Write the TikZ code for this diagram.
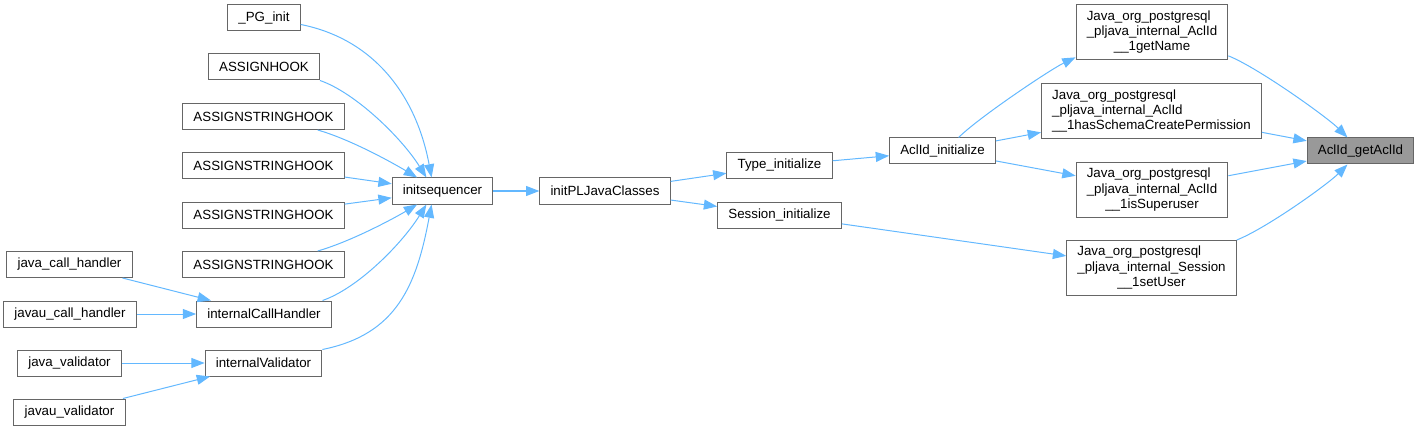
\documentclass[tikz,border=0pt]{standalone}
\usepackage{fontspec}
\setmainfont{Liberation Sans}
\usetikzlibrary{arrows.meta}
\definecolor{boxline}{HTML}{666666}
\definecolor{boxfill}{HTML}{999999}
\definecolor{callline}{HTML}{63B8FF}
\newcommand{\jnilabel}[3]{\begin{tabular}{@{}l@{}}#1\\#2\\\multicolumn{1}{@{}c@{}}{#3}\end{tabular}}
\renewcommand{\arraystretch}{0.94}
\tikzset{
 fn/.style={draw=boxline,line width=0.75pt,inner xsep=8pt,inner ysep=0pt,minimum height=19.5pt,font=\fontsize{10}{12}\selectfont},
 jni/.style={fn,minimum height=41.25pt},
 call/.style={draw=callline,line width=0.75pt,-{Triangle[length=10pt,width=7.5pt]}}
}
\begin{document}
\begin{tikzpicture}[x=0.75pt,y=-0.75pt]
\useasboundingbox (0,0) rectangle (1420,431);
\node[fn] (pginit) at (264,18) {\_PG\_init};
\node[fn] (ahook) at (264,67) {ASSIGNHOOK};
\node[fn] (ashook1) at (263.5,116.5) {ASSIGNSTRINGHOOK};
\node[fn] (ashook2) at (263.5,165.5) {ASSIGNSTRINGHOOK};
\node[fn] (ashook3) at (263.5,215) {ASSIGNSTRINGHOOK};
\node[fn] (ashook4) at (263.5,264.5) {ASSIGNSTRINGHOOK};
\node[fn] (jcall) at (69.5,264.5) {java\_call\_handler};
\node[fn] (jucall) at (70,314) {javau\_call\_handler};
\node[fn] (jval) at (69.5,363) {java\_validator};
\node[fn] (juval) at (69.5,412) {javau\_validator};
\node[fn] (icall) at (264,314) {internalCallHandler};
\node[fn] (ival) at (263.5,363) {internalValidator};
\node[fn] (initseq) at (442.5,191) {initsequencer};
\node[fn] (initpl) at (605,191) {initPLJavaClasses};
\node[fn] (typeinit) at (779.5,165.5) {Type\_initialize};
\node[fn] (sessinit) at (779.5,215) {Session\_initialize};
\node[fn] (aclinit) at (942.5,151) {AclId\_initialize};
\node[jni] (getname) at (1152,32.5) {\jnilabel{Java\_org\_postgresql}{\_pljava\_internal\_AclId}{\_\_1getName}};
\node[jni] (hasschema) at (1151.5,111.5) {\jnilabel{Java\_org\_postgresql}{\_pljava\_internal\_AclId}{\_\_1hasSchemaCreatePermission}};
\node[jni] (issuper) at (1152,190) {\jnilabel{Java\_org\_postgresql}{\_pljava\_internal\_AclId}{\_\_1isSuperuser}};
\node[jni] (setuser) at (1151.5,268) {\jnilabel{Java\_org\_postgresql}{\_pljava\_internal\_Session}{\_\_1setUser}};
\node[fn,fill=boxfill] (getacl) at (1360.5,151) {AclId\_getAclId};

\draw[call] (pginit.-10) .. controls +(75,15) and +(-15,-80) .. (initseq.129);
\draw[call] (ahook.south east) .. controls +(35,12) and +(-25,-40) .. (initseq.140);
\draw[call] (ashook1.-14) .. controls +(35,10) and +(-20,-12) .. (initseq.152);
\draw[call] (ashook2) -- (initseq);
\draw[call] (ashook3) -- (initseq);
\draw[call] (ashook4.14) .. controls +(35,-10) and +(-20,12) .. (initseq.-152);
\draw[call] (icall.13) .. controls +(35,-12) and +(-25,40) .. (initseq.-140);
\draw[call] (ival.north east) .. controls +(75,-15) and +(-15,80) .. (initseq.-129);
\draw[call] (jcall) -- (icall);
\draw[call] (jucall) -- (icall);
\draw[call] (jval) -- (ival);
\draw[call] (juval) -- (ival);
\draw[call] (initseq) -- (initpl);
\draw[call] (initpl) -- (typeinit);
\draw[call] (initpl) -- (sessinit);
\draw[call] (typeinit) -- (aclinit);
\draw[call] (aclinit.40) .. controls +(20,-20) and +(-25,12) .. (getname.198);
\draw[call] (aclinit) -- (hasschema);
\draw[call] (aclinit) -- (issuper);
\draw[call] (sessinit) -- (setuser);
\draw[call] (getname.-17) .. controls +(30,12) and +(-20,-20) .. (getacl.134);
\draw[call] (hasschema) -- (getacl);
\draw[call] (issuper) -- (getacl);
\draw[call] (setuser.north east) .. controls +(30,-12) and +(-20,20) .. (getacl.-134);
\end{tikzpicture}
\end{document}
